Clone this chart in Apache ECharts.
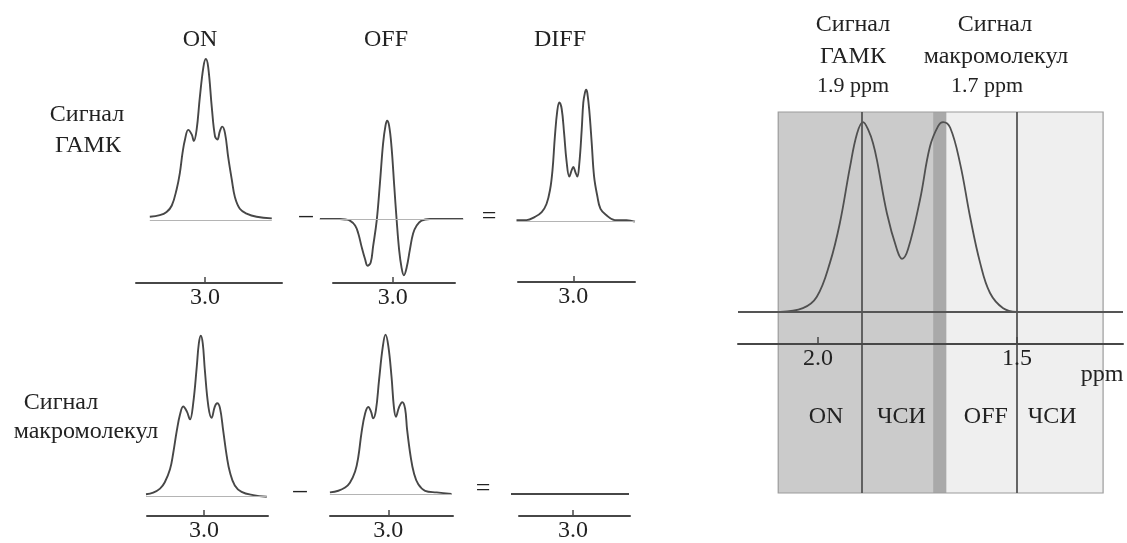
<!DOCTYPE html>
<html>
<head>
<meta charset="utf-8">
<script src="https://cdn.jsdelivr.net/npm/echarts@6/dist/echarts.min.js"></script>
<style>
html, body { margin: 0; padding: 0; background: #fff; }
#chart { width: 1127px; height: 543px; }
</style>
</head>
<body>
<div id="chart"></div>
<script>
var FONT = "'Liberation Serif', 'DejaVu Serif', serif";
var INK = '#222';
var LINE = '#474747';

// ---- GABA signal: ON, OFF, DIFF (ppm, relative amplitude) ----
var gabaOnPpm = [3.138, 3.113, 3.096, 3.083, 3.071, 3.063, 3.056, 3.050, 3.042, 3.033, 3.028, 3.021, 3.013, 3.004, 2.998, 2.992, 2.983, 2.975, 2.969, 2.963, 2.957, 2.950, 2.942, 2.933, 2.925, 2.913, 2.896, 2.871, 2.833];
var gabaOnAmp = [0.02, 0.03, 0.05, 0.09, 0.19, 0.29, 0.42, 0.50, 0.56, 0.53, 0.49, 0.56, 0.76, 0.95, 1.00, 0.95, 0.70, 0.52, 0.50, 0.55, 0.58, 0.54, 0.39, 0.25, 0.14, 0.07, 0.04, 0.02, 0.01];

var gabaOffPpm = [3.182, 3.157, 3.132, 3.119, 3.107, 3.094, 3.086, 3.078, 3.069, 3.063, 3.055, 3.049, 3.040, 3.032, 3.024, 3.018, 3.014, 3.009, 3.003, 2.996, 2.990, 2.984, 2.978, 2.972, 2.965, 2.957, 2.949, 2.940, 2.928, 2.907, 2.870, 2.824];
var gabaOffAmp = [0, 0, 0, -0.003, -0.01, -0.04, -0.09, -0.17, -0.25, -0.29, -0.27, -0.17, -0.01, 0.22, 0.47, 0.58, 0.61, 0.58, 0.45, 0.20, -0.01, -0.19, -0.30, -0.35, -0.30, -0.19, -0.09, -0.04, -0.01, 0, 0, 0];

var gabaDiffPpm = [3.142, 3.117, 3.096, 3.079, 3.067, 3.058, 3.052, 3.046, 3.040, 3.035, 3.029, 3.023, 3.017, 3.010, 3.004, 3.000, 2.995, 2.990, 2.985, 2.979, 2.975, 2.971, 2.968, 2.965, 2.960, 2.954, 2.948, 2.940, 2.932, 2.917, 2.896, 2.867, 2.846];
var gabaDiffAmp = [0.01, 0.01, 0.03, 0.06, 0.11, 0.20, 0.32, 0.53, 0.69, 0.74, 0.70, 0.55, 0.38, 0.28, 0.32, 0.34, 0.31, 0.28, 0.36, 0.57, 0.74, 0.80, 0.82, 0.80, 0.69, 0.49, 0.28, 0.16, 0.08, 0.04, 0.01, 0.01, 0.00];

// ---- macromolecule signal ----
var mmOnPpm = [3.145, 3.127, 3.110, 3.098, 3.085, 3.077, 3.068, 3.060, 3.052, 3.043, 3.035, 3.027, 3.018, 3.013, 3.008, 3.003, 2.998, 2.989, 2.981, 2.973, 2.967, 2.960, 2.952, 2.943, 2.935, 2.923, 2.906, 2.877, 2.843];
var mmOnAmp = [0.015, 0.025, 0.05, 0.09, 0.17, 0.27, 0.41, 0.51, 0.56, 0.53, 0.48, 0.58, 0.81, 0.95, 1.00, 0.95, 0.79, 0.56, 0.49, 0.56, 0.58, 0.55, 0.41, 0.25, 0.15, 0.07, 0.03, 0.01, 0.00];

var mmOffPpm = [3.146, 3.125, 3.108, 3.096, 3.083, 3.075, 3.067, 3.058, 3.050, 3.043, 3.038, 3.031, 3.023, 3.014, 3.007, 3.000, 2.992, 2.986, 2.981, 2.973, 2.965, 2.958, 2.953, 2.944, 2.936, 2.925, 2.908, 2.879, 2.842];
var mmOffAmp = [0.01, 0.02, 0.04, 0.07, 0.14, 0.23, 0.38, 0.50, 0.54, 0.51, 0.47, 0.52, 0.71, 0.91, 0.99, 0.92, 0.73, 0.54, 0.48, 0.54, 0.57, 0.53, 0.40, 0.23, 0.13, 0.06, 0.02, 0.01, 0.00];

var mmDiffPpm = [3.155, 3.0, 2.86];
var mmDiffAmp = [0, 0, 0];

var panelTicks = [3.0];

// ---- editing pulse panel (right) ----
var editPpm = [2.095, 2.038, 2.003, 1.970, 1.945, 1.920, 1.902, 1.887, 1.872, 1.862, 1.852, 1.827, 1.802, 1.789, 1.774, 1.744, 1.719, 1.698, 1.686, 1.668, 1.643, 1.618, 1.593, 1.568, 1.535, 1.500];
var editAmp = [0, 0.02, 0.08, 0.26, 0.47, 0.76, 0.94, 1.00, 0.95, 0.89, 0.80, 0.52, 0.33, 0.28, 0.33, 0.59, 0.87, 0.98, 1.00, 0.97, 0.78, 0.50, 0.26, 0.10, 0.02, 0.00];
var editTicks = [2.0, 1.5];
var editLines = [1.89, 1.5];
var regionEdges = [2.1, 1.89, 1.711, 1.677, 1.5, 1.284];
var regionNames = ['ON', 'ЧСИ', '', 'OFF', 'ЧСИ'];
var regionColors = ['#cbcbcb', '#cbcbcb', '#a9a9a9', '#efefef', '#efefef'];

var PX_PPM = 400;   // px per ppm, left panels
var PX_AMP = 161;   // px per amplitude unit, left panels

var panels = [
    {x: gabaOnPpm, y: gabaOnAmp, cx: 205, yb: 220, ruler: [136, 282], ay: 283, ymin: -0.4, base: true},
    {x: gabaOffPpm, y: gabaOffAmp, cx: 392.7, yb: 219, ruler: [333, 455], ay: 283, ymin: -0.4, base: true},
    {x: gabaDiffPpm, y: gabaDiffAmp, cx: 573.3, yb: 221.7, ruler: [518, 635], ay: 282, ymin: -0.4, base: true},
    {x: mmOnPpm, y: mmOnAmp, cx: 204, yb: 496.7, ruler: [147, 268], ay: 518, ymin: -0.15, base: true},
    {x: mmOffPpm, y: mmOffAmp, cx: 388.3, yb: 494, ruler: [330, 453], ay: 517, ymin: -0.15, base: true},
    {x: mmDiffPpm, y: mmDiffAmp, cx: 573, yb: 494, ruler: [519, 630], ay: 516, ymin: -0.15, base: false}
];

function fmt1(v) { return Number(v).toFixed(1); }

var grids = [], xAxes = [], yAxes = [], series = [];

panels.forEach(function (p) {
    var xmax = Math.max.apply(null, p.x), xmin = Math.min.apply(null, p.x);
    var ymax = 1.05;
    // curve
    var gi = grids.length;
    grids.push({
        left: p.cx - (xmax - 3) * PX_PPM, top: p.yb - ymax * PX_AMP,
        width: (xmax - xmin) * PX_PPM, height: (ymax - p.ymin) * PX_AMP
    });
    xAxes.push({gridIndex: gi, type: 'value', min: xmin, max: xmax, inverse: true, show: false});
    yAxes.push({gridIndex: gi, type: 'value', min: p.ymin, max: ymax, show: false});
    series.push({
        type: 'line', xAxisIndex: gi, yAxisIndex: gi, z: 3,
        data: p.x.map(function (v, i) { return [v, p.y[i]]; }),
        smooth: 0.4, symbol: 'none',
        lineStyle: {color: LINE, width: 1.9},
        markLine: p.base ? {
            symbol: 'none', silent: true, animation: false, label: {show: false},
            lineStyle: {color: '#b4b4b4', width: 1.2, type: 'solid'},
            data: [{yAxis: 0}]
        } : undefined
    });
    // ruler under the curve
    var ri = grids.length;
    grids.push({left: p.ruler[0], top: p.ay - 10, width: p.ruler[1] - p.ruler[0], height: 10});
    xAxes.push({
        gridIndex: ri, type: 'value', inverse: true,
        min: 3 - (p.ruler[1] - p.cx) / PX_PPM, max: 3 + (p.cx - p.ruler[0]) / PX_PPM,
        axisLine: {onZero: false, lineStyle: {color: LINE, width: 2}},
        axisTick: {inside: true, length: 6, customValues: panelTicks, lineStyle: {color: LINE, width: 1.5}},
        axisLabel: {customValues: panelTicks, formatter: fmt1, margin: 3,
            fontFamily: FONT, fontSize: 24, color: INK},
        splitLine: {show: false}
    });
    yAxes.push({gridIndex: ri, type: 'value', show: false});
});

// right panel
var R = grids.length;
grids.push({left: 738, top: 112, width: 385, height: 381});
xAxes.push({
    gridIndex: R, type: 'value', inverse: true, min: 1.234, max: 2.201, offset: -149, z: 10,
    axisLine: {onZero: false, lineStyle: {color: LINE, width: 2}},
    axisTick: {inside: true, length: 7, customValues: editTicks, lineStyle: {color: LINE, width: 1.5}},
    axisLabel: {customValues: editTicks, formatter: fmt1, margin: 3,
        fontFamily: FONT, fontSize: 24, color: INK},
    splitLine: {show: false}
});
yAxes.push({gridIndex: R, type: 'value', min: -0.953, max: 1.053, show: false});

var labelShift = [6, 4, 0, 4, -8];
var areas = [];
for (var k = 0; k < regionNames.length; k++) {
    areas.push([{
        xAxis: regionEdges[k],
        itemStyle: {color: regionColors[k]},
        label: {show: regionNames[k] !== '', formatter: regionNames[k], offset: [labelShift[k], 0]}
    }, {xAxis: regionEdges[k + 1]}]);
}
areas.push([{xAxis: regionEdges[0], itemStyle: {color: 'rgba(0,0,0,0)', borderColor: '#9c9c9c', borderWidth: 1.2},
    label: {show: false}}, {xAxis: regionEdges[regionEdges.length - 1]}]);

series.push({
    type: 'line', xAxisIndex: R, yAxisIndex: R, z: 3,
    data: editPpm.map(function (v, i) { return [v, editAmp[i]]; }),
    smooth: 0.4, symbol: 'none',
    lineStyle: {color: '#505050', width: 1.8},
    markLine: {
        symbol: 'none', silent: true, animation: false, label: {show: false},
        lineStyle: {color: '#555', width: 1.8, type: 'solid'},
        data: [{yAxis: 0}].concat(editLines.map(function (v) { return {xAxis: v}; }))
    },
    markArea: {
        silent: true, animation: false,
        label: {position: ['50%', '80%'], align: 'center', verticalAlign: 'middle',
            fontFamily: FONT, fontSize: 24, color: INK},
        data: areas
    }
});

var texts = [
    ['ON', 200, 40, 24], ['OFF', 386, 40, 24], ['DIFF', 560, 40, 24],
    ['Сигнал', 87, 115, 24], ['ГАМК', 88, 146, 24],
    ['Сигнал', 61, 403, 24], ['макромолекул', 86, 432, 24],
    ['–', 306, 216, 27], ['=', 489, 217, 26],
    ['–', 300, 491, 27], ['=', 483, 489, 26],
    ['Сигнал', 853, 25, 24], ['ГАМК', 853, 57, 24], ['1.9 ppm', 853, 86, 22],
    ['Сигнал', 995, 25, 24], ['макромолекул', 996, 57, 24], ['1.7 ppm', 987, 86, 22],
    ['ppm', 1102, 375, 24]
];

var chart = echarts.init(document.getElementById('chart'));
chart.setOption({
    animation: false,
    backgroundColor: '#fff',
    grid: grids,
    xAxis: xAxes,
    yAxis: yAxes,
    series: series,
    graphic: texts.map(function (t) {
        return {
            type: 'text', x: t[1], y: t[2], silent: true, z: 100,
            style: {text: t[0], font: t[3] + 'px ' + FONT, fill: INK,
                align: 'center', verticalAlign: 'middle'}
        };
    })
});
</script>
</body>
</html>
